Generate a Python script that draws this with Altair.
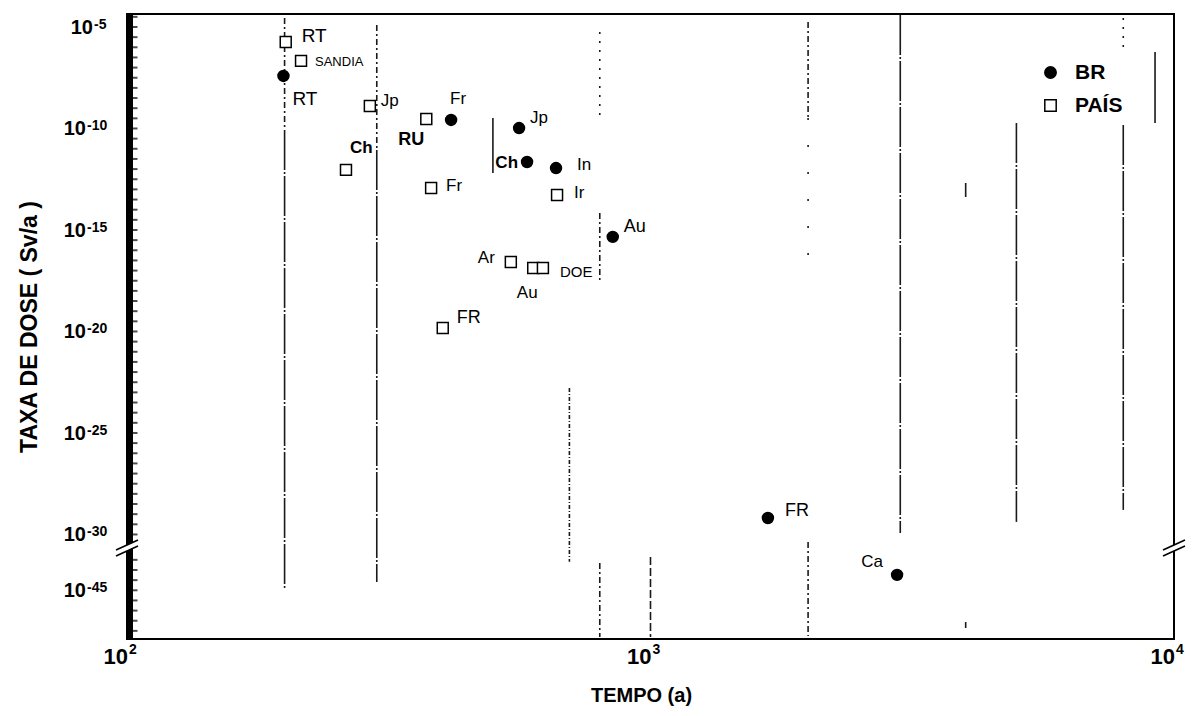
import altair as alt
import pandas as pd

# Dose rate results (exponent of 10, Sv/a) versus time (a)
pais_rotulos = ["RT", "SANDIA", "Jp", "RU", "Ch", "Fr", "Ir", "Ar", "Au", "DOE", "FR"]
pais_tempo = [201, 215, 291, 373, 262, 381, 663, 541, 597, 623, 401]
pais_expoente = [-5.74, -6.67, -8.89, -9.53, -12.04, -12.93, -13.28, -16.58, -16.87, -16.87, -19.83]

br_rotulos = ["RT", "Fr", "Jp", "Ch", "In", "Au", "FR", "Ca"]
br_tempo = [199, 416, 561, 581, 660, 847, 1676, 2958]
br_expoente = [-7.41, -9.58, -9.98, -11.65, -11.95, -15.34, -29.19, -44.26]

# label placement (dx, dy, align, weight, size) for each point, same order
pais_estilo = [
    (16, -6, "left", "normal", 19), (14, 1, "left", "normal", 13),
    (11, -5, "left", "normal", 17), (-2, 21, "right", "bold", 18),
    (4, -22, "left", "bold", 17), (15, -2, "left", "normal", 17),
    (17, -2, "left", "normal", 17), (-16, -4, "right", "normal", 17),
    (-6, 25, "center", "normal", 17), (17, 4, "left", "normal", 15),
    (14, -10, "left", "normal", 18),
]
br_estilo = [
    (9, 23, "left", "normal", 19), (-1, -21, "left", "normal", 17),
    (11, -10, "left", "normal", 17), (-9, 1, "right", "bold", 17),
    (21, -3, "left", "normal", 17), (11, -10, "left", "normal", 18),
    (17, -7, "left", "normal", 18), (-14, -13, "right", "normal", 17),
]

# axis labels
y_expoentes = [-5, -10, -15, -20, -25, -30, -45]
x_decadas = [100, 1000, 10000]
x_expoentes = ["2", "3", "4"]

# vertical guide segments: time, top and bottom (axis units), dash style
grade_tempo = [200, 200, 300, 300, 500, 700, 800, 800, 800, 1000, 2000, 2000, 2000,
               3000, 4000, 4000, 5000, 8000, 8000, 9200]
grade_topo = [-4.56, -10.07, -4.90, -11.06, -9.48, -22.78, -5.25, -14.16, -31.40, -31.11,
              -4.75, -9.48, -30.37, -4.41, -12.68, -34.31, -9.73, -4.56, -9.83, -6.23]
grade_base = [-10.07, -32.64, -11.06, -32.34, -12.19, -31.35, -9.58, -17.56, -35.05, -35.05,
              -9.48, -17.46, -35.00, -29.93, -13.37, -34.61, -29.38, -6.23, -28.79, -9.73]
grade_estilo = ["tracoponto", "longo", "tracoponto", "longo", "continuo", "denso", "pontilhado",
                "tracoponto", "tracoponto", "tracejado", "tracoponto", "esparso", "tracoponto",
                "longo", "continuo", "continuo", "longo", "pontilhado", "longo", "continuo"]

W, H = 1047, 625
FONTE = "Liberation Sans, Arial, sans-serif"

# the axis is broken below 10^-30: lower values are shifted up
POS = "datum.expoente >= -31 ? datum.expoente : datum.expoente + 12.27"

x_scale = alt.Scale(type="log", domain=[100, 10000], nice=False)
y_scale = alt.Scale(domain=[-35.15, -4.36], nice=False, zero=False)

x_axis = alt.Axis(title="TEMPO (a)", labels=False, ticks=False, domain=False, grid=False,
                  titlePadding=46, titleX=514, titleFont=FONTE, titleFontSize=20,
                  titleFontWeight="bold", titleColor="black")
y_axis = alt.Axis(title="TAXA DE DOSE ( Sv/a )", labels=False, ticks=False, domain=False,
                  grid=False, titlePadding=86, titleFont=FONTE, titleFontSize=23,
                  titleFontWeight="bold", titleColor="black")

pontos = pd.DataFrame({
    "grupo": ["PAÍS"] * len(pais_rotulos) + ["BR"] * len(br_rotulos),
    "rotulo": pais_rotulos + br_rotulos,
    "tempo": pais_tempo + br_tempo,
    "expoente": pais_expoente + br_expoente,
})
pontos["id"] = range(len(pontos))
estilos = pais_estilo + br_estilo

base = alt.Chart(pontos).transform_calculate(pos=POS)
X = alt.X("tempo:Q", scale=x_scale, axis=x_axis)
Y = alt.Y("pos:Q", scale=y_scale, axis=y_axis)

# guide lines
grade = pd.DataFrame({"tempo": grade_tempo, "topo": grade_topo, "base": grade_base,
                      "estilo": grade_estilo})
dash_dom = ["tracoponto", "longo", "continuo", "denso", "pontilhado", "tracejado", "esparso"]
dash_rng = [[6, 3, 2, 3], [40, 2, 2, 2], [1, 0], [4, 2, 1, 2], [2, 7], [8, 3], [2, 25]]
linhas = alt.Chart(grade).mark_rule(color="#1a1a1a", strokeWidth=1.6).encode(
    x=X,
    y=alt.Y("topo:Q", scale=y_scale, axis=y_axis),
    y2="base:Q",
    strokeDash=alt.StrokeDash("estilo:N", scale=alt.Scale(domain=dash_dom, range=dash_rng),
                              legend=None),
)

grupos = ["BR", "PAÍS"]
legenda = alt.Legend(title=None, orient="none", legendX=913, legendY=48, symbolSize=130,
                     labelFontSize=21, labelFontWeight="bold", labelFont=FONTE,
                     labelColor="black", labelOffset=14, rowPadding=11, padding=0,
                     symbolStrokeWidth=1.5)
marcadores = base.mark_point(filled=True, strokeWidth=1.5, size=120, opacity=1).encode(
    x=X, y=Y,
    shape=alt.Shape("grupo:N", scale=alt.Scale(domain=grupos, range=["circle", "square"]),
                    legend=legenda),
    fill=alt.Fill("grupo:N", scale=alt.Scale(domain=grupos, range=["black", "white"]),
                  legend=legenda),
    stroke=alt.Stroke("grupo:N", scale=alt.Scale(domain=grupos, range=["black", "black"]),
                      legend=legenda),
)

rotulos = []
for i, (dx, dy, al, peso, tam) in enumerate(estilos):
    rotulos.append(
        base.transform_filter(f"datum.id == {i}").mark_text(
            dx=dx, dy=dy, align=al, baseline="middle", font=FONTE, fontSize=tam,
            fontWeight=peso, color="black").encode(x=X, y=Y, text="rotulo:N")
    )

# y tick labels: "10" plus raised exponent
ylab = pd.DataFrame({"expoente": y_expoentes})
ylab["sup"] = ["-" + str(-e) for e in y_expoentes]
ybase = alt.Chart(ylab).transform_calculate(pos=POS)
ylabels = []
for filtro, xd in [("datum.expoente == -5", -34), ("datum.expoente != -5", -41)]:
    ylabels.append(ybase.transform_filter(filtro).mark_text(
        align="right", baseline="alphabetic", dy=7, font=FONTE, fontSize=20,
        fontWeight="bold", color="black").encode(
        x=alt.value(xd), y=Y, text=alt.value("10")))
    ylabels.append(ybase.transform_filter(filtro).mark_text(
        align="left", baseline="alphabetic", dy=2, font=FONTE, fontSize=14,
        fontWeight="bold", color="black").encode(
        x=alt.value(xd + 1), y=Y, text="sup:N"))

# x tick labels
xlab = pd.DataFrame({"tempo": x_decadas, "sup": x_expoentes})
xl10 = alt.Chart(xlab).mark_text(align="right", baseline="middle", dx=1, font=FONTE,
                                 fontSize=22, fontWeight="bold", color="black").encode(
    x=X, y=alt.value(H + 18), text=alt.value("10"))
xlsup = alt.Chart(xlab).mark_text(align="left", baseline="middle", dx=2, dy=-7,
                                  font=FONTE, fontSize=14, fontWeight="bold",
                                  color="black").encode(
    x=X, y=alt.value(H + 18), text="sup:N")

# thick left axis with inward ticks
marcas = pd.DataFrame({"pos": [-4.5 - 0.5 * k for k in range(53)] +
                              [-31.25 - 0.5 * k for k in range(8)]})
eixo = alt.Chart(marcas).mark_rule(color="black", strokeWidth=7).encode(
    x=alt.value(2.5), y=alt.value(0), y2=alt.value(H))
tiques = alt.Chart(marcas).mark_tick(color="black", thickness=2, size=9,
                                     orient="horizontal").encode(
    x=alt.value(6), y=alt.Y("pos:Q", scale=y_scale, axis=y_axis))

# break marks on both vertical edges
um = pd.DataFrame({"k": [0]})
quebras = []
for x0 in [0, W]:
    quebras.append(alt.Chart(um).mark_rule(color="white", strokeWidth=5).encode(
        x=alt.value(x0 - 11), x2=alt.value(x0 + 11), y=alt.value(539), y2=alt.value(529)))
    for yy in [536, 542]:
        quebras.append(alt.Chart(um).mark_rule(color="black", strokeWidth=1.6).encode(
            x=alt.value(x0 - 11), x2=alt.value(x0 + 11), y=alt.value(yy),
            y2=alt.value(yy - 10)))

chart = alt.layer(
    linhas, marcadores, *rotulos, *ylabels, xl10, xlsup, eixo, tiques, *quebras
).properties(
    width=W, height=H,
    autosize=alt.AutoSizeParams(type="none"),
    padding={"left": 127, "top": 14, "right": 21, "bottom": 77},
    background="white",
).configure_view(stroke="black", strokeWidth=2)

chart.save("out.html", embed_options={"renderer": "svg", "actions": False})
